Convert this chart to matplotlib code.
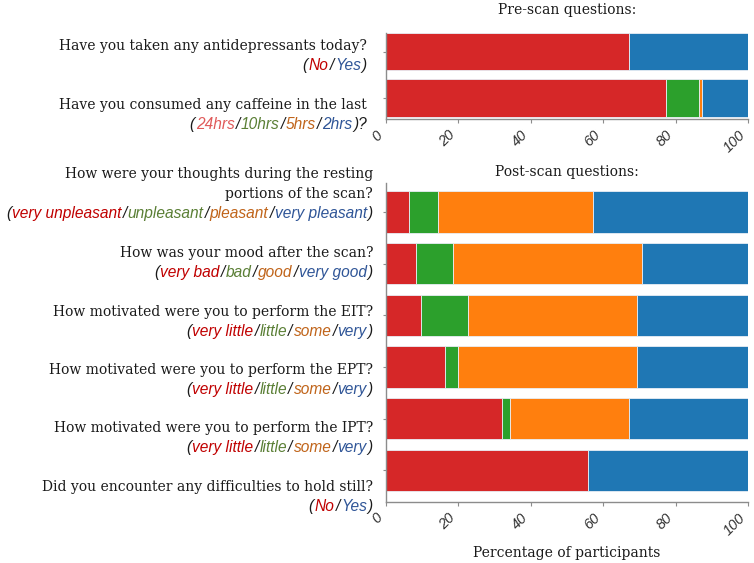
import matplotlib
matplotlib.use("Agg")
import matplotlib.pyplot as plt
import numpy as np

# ---------------- data ----------------
pre_questions = [
    ["Have you taken any antidepressants today?"],
    ["Have you consumed any caffeine in the last"],
]
pre_answers = [
    [("(", "k"), ("No", "red"), ("/", "k"), ("Yes", "blue"), (")", "k")],
    [("(", "k"), ("24hrs", "lred"), ("/", "k"), ("10hrs", "green"), ("/", "k"),
     ("5hrs", "orange"), ("/", "k"), ("2hrs", "blue"), (")?", "k")],
]
pre_values = [
    [67.2, 0.0, 0.0, 32.8],      # No / - / - / Yes
    [77.3, 9.2, 0.8, 12.7],      # 24hrs / 10hrs / 5hrs / 2hrs
]

post_questions = [
    ["How were your thoughts during the resting", "portions of the scan?"],
    ["How was your mood after the scan?"],
    ["How motivated were you to perform the EIT?"],
    ["How motivated were you to perform the EPT?"],
    ["How motivated were you to perform the IPT?"],
    ["Did you encounter any difficulties to hold still?"],
]
_vl = [("(", "k"), ("very little", "red"), ("/", "k"), ("little", "green"), ("/", "k"),
       ("some", "orange"), ("/", "k"), ("very", "blue"), (")", "k")]
post_answers = [
    [("(", "k"), ("very unpleasant", "red"), ("/", "k"), ("unpleasant", "green"), ("/", "k"),
     ("pleasant", "orange"), ("/", "k"), ("very pleasant", "blue"), (")", "k")],
    [("(", "k"), ("very bad", "red"), ("/", "k"), ("bad", "green"), ("/", "k"),
     ("good", "orange"), ("/", "k"), ("very good", "blue"), (")", "k")],
    _vl, _vl, _vl,
    [("(", "k"), ("No", "red"), ("/", "k"), ("Yes", "blue"), (")", "k")],
]
post_values = [
    [6.4, 8.0, 42.9, 42.7],
    [8.5, 10.0, 52.3, 29.2],
    [9.8, 13.0, 46.6, 30.6],
    [16.4, 3.5, 49.5, 30.6],
    [32.1, 2.2, 32.9, 32.8],
    [55.8, 0.0, 0.0, 44.2],
]
x_ticks = [0, 20, 40, 60, 80, 100]

# ---------------- style ----------------
bar_colors = ["#d62728", "#2ca02c", "#ff7f0e", "#1f77b4"]
txt_colors = {"k": "#1a1a1a", "red": "#c00000", "lred": "#e05a5a", "green": "#5a7f35",
              "orange": "#c0641a", "blue": "#2f5597"}
SERIF = "DejaVu Serif"
SANS = "Liberation Sans"
Q_SIZE = 10.0
A_SIZE = 11.2
PIECE_GAP = 1.0

W, H = 754, 563
fig = plt.figure(figsize=(W / 100, H / 100), dpi=100)


def fx(px):
    return px / W


def fy(py):
    return 1 - py / H


ax_left = fx(385.7)
ax_w = (748 - 385.7) / W
ax_pre = fig.add_axes([ax_left, fy(119), ax_w, (119 - 33) / H])
ax_post = fig.add_axes([ax_left, fy(501.7), ax_w, (501.7 - 183) / H])


def draw_stack(ax, values):
    vals = np.array(values)
    y = np.arange(len(vals))
    left = np.zeros(len(vals))
    for j in range(vals.shape[1]):
        ax.barh(y, vals[:, j], left=left, height=0.8, color=bar_colors[j],
                edgecolor="#e8eef5", linewidth=0.6)
        left += vals[:, j]
    ax.set_xlim(0, 100)
    ax.set_yticks(y)
    ax.set_yticklabels([])
    ax.set_xticks(x_ticks)
    ax.set_xticklabels([str(t) for t in x_ticks], rotation=45, ha="right",
                       fontsize=10.5, family=SANS, style="italic", color="#333333")
    for s in ["top", "right"]:
        ax.spines[s].set_visible(False)
    for s in ["left", "bottom"]:
        ax.spines[s].set_color("#8c8c8c")
        ax.spines[s].set_linewidth(1.0)
    ax.tick_params(axis="both", colors="#8c8c8c", length=3, width=0.8, labelcolor="#333333")
    ax.tick_params(axis="y", length=2)


draw_stack(ax_pre, pre_values)
ax_pre.set_ylim(1.45, -0.40)
draw_stack(ax_post, post_values)
ax_post.set_ylim(5.61, -0.56)

ax_pre.set_title("Pre-scan questions:", family=SERIF, fontsize=10.0, color="#1a1a1a", pad=14)
ax_post.set_title("Post-scan questions:", family=SERIF, fontsize=10.0, color="#1a1a1a", pad=5)
ax_post.set_xlabel("Percentage of participants", family=SERIF, fontsize=10.0,
                   color="#1a1a1a", labelpad=6)

renderer = fig.canvas.get_renderer()


def colored_line(right_px, base_py, pieces):
    x = right_px
    for txt, col in reversed(pieces):
        t = fig.text(fx(x), fy(base_py), txt, color=txt_colors[col], ha="right",
                     va="baseline", family=SANS, style="italic", fontsize=A_SIZE)
        bb = t.get_window_extent(renderer)
        x -= bb.width + PIECE_GAP


def label_block(right_px, first_center_py, q_lines, answer):
    py = first_center_py
    for line in q_lines:
        fig.text(fx(right_px), fy(py + 5), line, ha="right", va="baseline",
                 family=SERIF, fontsize=Q_SIZE, color="#1a1a1a")
        py += 20
    colored_line(right_px, py + 5, answer)


pre_first = [45, 104]
for q, a, c in zip(pre_questions, pre_answers, pre_first):
    label_block(367, c, q, a)

post_first = [173, 252, 311, 369, 427, 486]
for q, a, c in zip(post_questions, post_answers, post_first):
    label_block(373, c, q, a)

fig.savefig("out.png", dpi=100)
